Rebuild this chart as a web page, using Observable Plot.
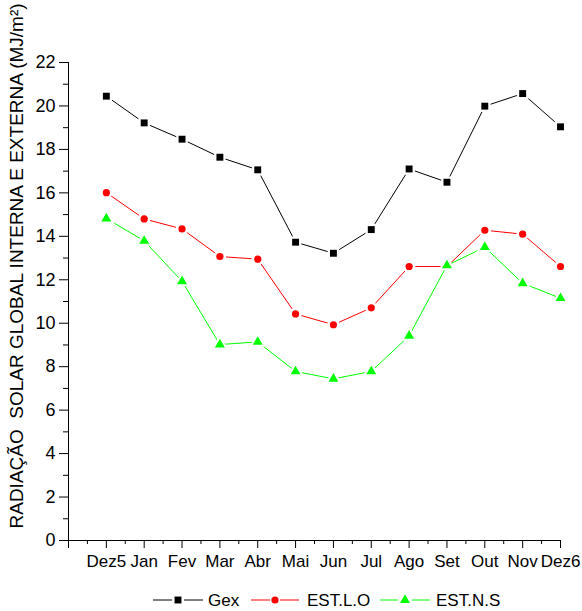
<!DOCTYPE html>
<html><head><meta charset="utf-8">
<script src="https://cdn.jsdelivr.net/npm/d3@7"></script>
<script src="https://cdn.jsdelivr.net/npm/@observablehq/plot@0.6"></script>
<style>
body{margin:0;background:#fff;font-family:"Liberation Sans",Arial,sans-serif}
svg{display:block}
</style>
</head><body><div id="chart"></div><div id="legend"></div><script>
const months = ["Dez5","Jan","Fev","Mar","Abr","Mai","Jun","Jul","Ago","Set","Out","Nov","Dez6"];
const gex   = [20.45,19.22,18.47,17.64,17.06,13.73,13.22,14.31,17.10,16.49,19.99,20.57,19.04];
const estLO = [16.01,14.80,14.34,13.07,12.95,10.43,9.93,10.71,12.61,12.61,14.28,14.10,12.61];
const estNS = [14.82,13.79,11.93,9.02,9.14,7.78,7.44,7.78,9.42,12.66,13.50,11.84,11.15];
const seriesNames = ["Gex","EST.L.O","EST.N.S"];
const seriesColors = ["#000000","#ff0000","#00ff00"];
const seriesSymbols = ["square","circle","triangle"];
const seriesR = [3.9,3.6,3.7];
const yTicks = d3.range(0,23,2);
const yMinor = d3.range(1,22,2);
const xTicks = d3.range(0,14);
const xMinor = d3.range(0.5,13,1);
const yLabel = "RADIAÇÃO  SOLAR GLOBAL INTERNA E EXTERNA (MJ/m²)";

const seriesValues = [gex, estLO, estNS];
const series = seriesNames.map((name, k) => ({
  name, color: seriesColors[k], symbol: seriesSymbols[k], r: seriesR[k],
  data: months.map((m, i) => ({x: i + 1, month: m, y: seriesValues[k][i]}))
}));

const seriesMarks = series.flatMap(s => [
  Plot.line(s.data, {x: "x", y: "y", stroke: s.color, strokeWidth: 1}),
  Plot.dot(s.data, {x: "x", y: "y", symbol: s.symbol, r: s.r + 2.6, fill: "white", stroke: "none"}),
  Plot.dot(s.data, {x: "x", y: "y", symbol: s.symbol, r: s.r, fill: s.color, stroke: "none"})
]);

const plot = Plot.plot({
  width: 582, height: 580,
  marginLeft: 68, marginRight: 22, marginTop: 62, marginBottom: 40,
  style: {fontFamily: "'Liberation Sans', Arial, sans-serif", fontSize: "17px", background: "white", color: "black", overflow: "visible"},
  x: {domain: [0, 13], axis: null},
  y: {domain: [0, 22], axis: null},
  marks: [
    Plot.ruleX([0], {stroke: "black"}),
    Plot.ruleY([0], {stroke: "black"}),
    Plot.axisY({ticks: yTicks, tickSize: 9, tickPadding: 4, label: null, fontSize: 18}),
    Plot.axisY({ticks: yMinor, tickSize: 5, tickFormat: () => "", label: null}),
    Plot.axisX({ticks: xTicks, tickSize: 8, tickPadding: 6, tickFormat: d => months[d - 1] ?? "", label: null, fontSize: 17}),
    Plot.axisX({ticks: xMinor, tickSize: 4, tickFormat: () => "", label: null}),
    ...seriesMarks,
    Plot.text([yLabel], {text: d => d, frameAnchor: "bottom-left", rotate: -90, textAnchor: "start", dx: -46, dy: -12, fontSize: 19})
  ]
});
document.getElementById("chart").appendChild(plot);

// Legend below the plot
const legendPos = [
  {l1: [153, 172], m: 178, l2: [184, 203], t: 208},
  {l1: [251, 270], m: 275, l2: [280, 299], t: 307},
  {l1: [380, 398], m: 405, l2: [412, 430], t: 436}
];
const symMap = {square: d3.symbolSquare, circle: d3.symbolCircle, triangle: d3.symbolTriangle};
const lg = d3.select("#legend").append("svg").attr("width", 582).attr("height", 31)
  .style("font-family", "'Liberation Sans', Arial, sans-serif").style("font-size", "17px");
series.forEach((s, k) => {
  const p = legendPos[k], cy = 20;
  lg.append("line").attr("x1", p.l1[0]).attr("x2", p.l1[1]).attr("y1", cy).attr("y2", cy).attr("stroke", s.color);
  lg.append("line").attr("x1", p.l2[0]).attr("x2", p.l2[1]).attr("y1", cy).attr("y2", cy).attr("stroke", s.color);
  lg.append("path").attr("transform", `translate(${p.m},${cy})`)
    .attr("d", d3.symbol(symMap[s.symbol], Math.PI * s.r * s.r)()).attr("fill", s.color);
  lg.append("text").attr("x", p.t).attr("y", cy + 6).text(s.name);
});
</script></body></html>
